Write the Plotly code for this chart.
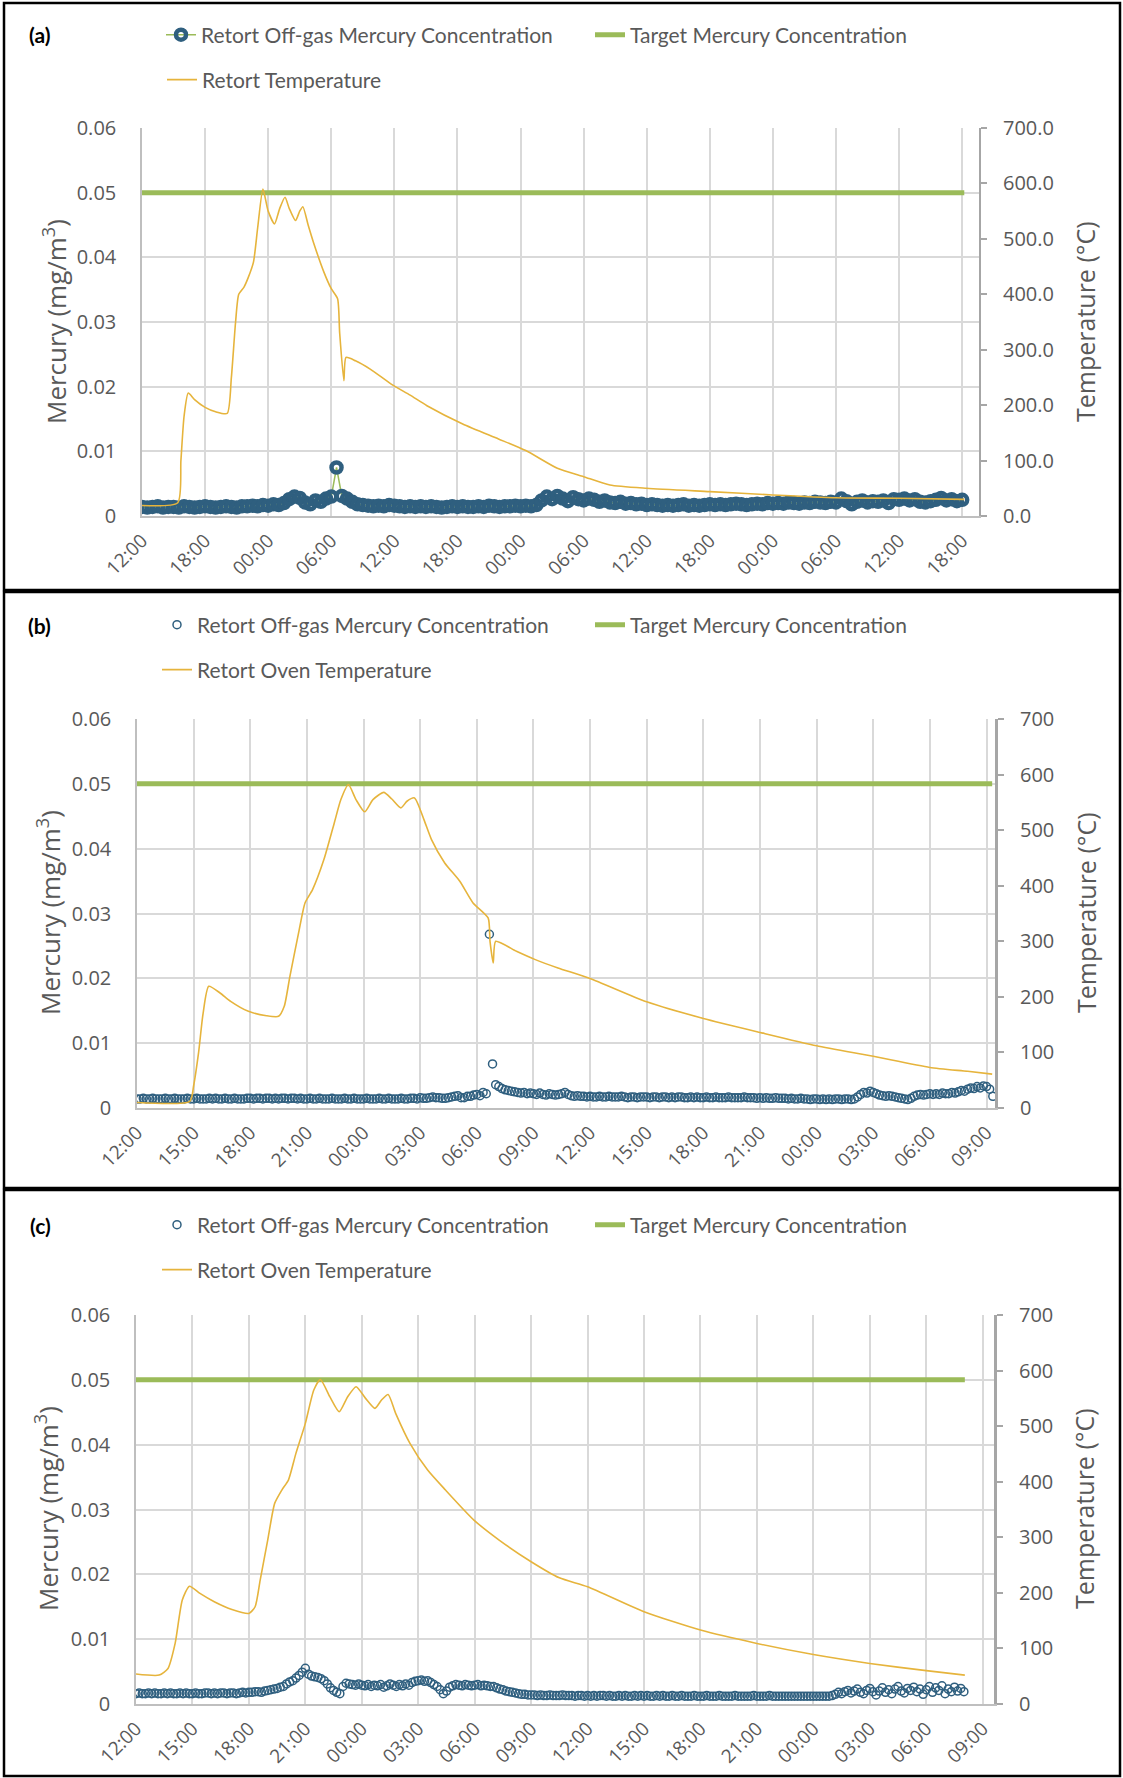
import pandas as pd
import plotly.graph_objects as go

START = pd.Timestamp("2021-03-01 12:00")

# ---------------- Panel (a) ----------------
a_hg_step_min = 30
a_hg = [0.0014,0.0013,0.0014,0.0015,0.0013,0.0014,0.0014,0.0013,0.0015,0.0014,
        0.0013,0.0014,0.0015,0.0014,0.0013,0.0014,0.0015,0.0014,0.0013,0.0015,
        0.0015,0.0016,0.0015,0.0017,0.0016,0.0018,0.0017,0.0020,0.0026,0.0030,
        0.0028,0.0021,0.0018,0.0024,0.0022,0.0027,0.0030,0.0075,0.0031,0.0027,
        0.0022,0.0018,0.0017,0.0016,0.0015,0.0016,0.0015,0.0017,0.0016,0.0015,
        0.0014,0.0015,0.0014,0.0015,0.0014,0.0015,0.0014,0.0013,0.0014,0.0015,
        0.0014,0.0015,0.0014,0.0014,0.0015,0.0014,0.0016,0.0015,0.0014,0.0015,
        0.0015,0.0016,0.0015,0.0016,0.0015,0.0017,0.0024,0.0030,0.0026,0.0031,
        0.0027,0.0023,0.0029,0.0026,0.0024,0.0027,0.0025,0.0022,0.0024,0.0021,
        0.0020,0.0022,0.0019,0.0020,0.0018,0.0019,0.0017,0.0018,0.0017,0.0016,
        0.0017,0.0016,0.0017,0.0018,0.0016,0.0017,0.0016,0.0017,0.0018,0.0017,
        0.0018,0.0017,0.0018,0.0019,0.0018,0.0017,0.0018,0.0019,0.0018,0.0020,
        0.0019,0.0020,0.0019,0.0021,0.0020,0.0019,0.0021,0.0020,0.0022,0.0021,
        0.0020,0.0022,0.0021,0.0027,0.0023,0.0018,0.0022,0.0024,0.0021,0.0023,
        0.0022,0.0024,0.0020,0.0026,0.0025,0.0027,0.0024,0.0026,0.0022,0.0021,
        0.0023,0.0025,0.0028,0.0024,0.0026,0.0023,0.0025]
a_temp_h = [0, 3.4, 3.7, 4.0, 4.4, 5.0, 6.0, 7.0, 8.1, 8.5, 8.9, 9.2, 9.7, 10.1, 10.6,
            11.0, 11.5, 12.0, 12.6, 13.1, 13.6, 14.0, 14.6, 15.0, 15.3, 15.8, 16.3, 17.3,
            18.0, 18.6, 18.8, 19.2, 19.4, 20.3, 21.7, 23.7, 25.5, 27.1, 30.5, 33.9, 36.5,
            39.5, 42.0, 44.5, 48.0, 54.0, 60.0, 66.0, 72.0, 78.2]
a_temp_c = [19, 24, 100, 180, 222, 210, 196, 188, 185, 250, 350, 400, 413, 430, 458,
            520, 590, 550, 527, 555, 575, 555, 533, 550, 558, 525, 494, 440,
            410, 392, 330, 244, 286, 280, 265, 238, 218, 199, 166, 139, 118,
            86, 71, 56, 50, 44, 38, 33, 32, 30]
a_target_h = [0, 78.2]
a_target = [0.05, 0.05]
a_range_h = 79.6

# ---------------- Panel (b) ----------------
b_hg_step_min = 10
b_hg = [0.0014,0.0014,0.0015,0.0014,0.0014,0.0015,0.0014,0.0014,0.0014,0.0015,0.0014,0.0014,0.0015,0.0014,0.0014,0.0014,0.0015,0.0014,
        0.0014,0.0015,0.0014,0.0014,0.0014,0.0015,0.0014,0.0015,0.0014,0.0014,0.0015,0.0014,0.0014,0.0015,0.0014,0.0014,0.0014,0.0015,
        0.0015,0.0014,0.0015,0.0015,0.0014,0.0015,0.0015,0.0014,0.0015,0.0014,0.0015,0.0015,0.0014,0.0015,0.0015,0.0014,0.0015,0.0014,
        0.0014,0.0015,0.0014,0.0014,0.0015,0.0014,0.0014,0.0014,0.0015,0.0014,0.0014,0.0014,0.0015,0.0014,0.0014,0.0015,0.0014,0.0014,
        0.0014,0.0015,0.0014,0.0014,0.0014,0.0015,0.0014,0.0014,0.0015,0.0014,0.0014,0.0014,0.0015,0.0014,0.0014,0.0015,0.0015,0.0014,
        0.0016,0.0015,0.0015,0.0016,0.0017,0.0016,0.0016,0.0015,0.0015,0.0016,0.0017,0.0018,0.0019,0.0016,0.0016,0.0018,0.0018,0.0020,
        0.0021,0.0019,0.0024,0.0022,0.0268,0.0068,0.0036,0.0033,0.0030,0.0028,0.0027,0.0026,0.0025,0.0024,0.0023,0.0024,0.0022,0.0023,
        0.0022,0.0021,0.0023,0.0021,0.0020,0.0022,0.0021,0.0020,0.0021,0.0022,0.0024,0.0021,0.0019,0.0018,0.0019,0.0018,0.0018,0.0017,
        0.0018,0.0017,0.0017,0.0018,0.0017,0.0017,0.0018,0.0017,0.0017,0.0017,0.0018,0.0017,0.0016,0.0017,0.0017,0.0016,0.0017,0.0017,
        0.0017,0.0016,0.0017,0.0017,0.0016,0.0017,0.0017,0.0016,0.0017,0.0016,0.0017,0.0017,0.0016,0.0016,0.0017,0.0016,0.0017,0.0016,
        0.0016,0.0017,0.0016,0.0016,0.0017,0.0016,0.0016,0.0016,0.0017,0.0016,0.0016,0.0016,0.0016,0.0017,0.0016,0.0016,0.0016,0.0015,
        0.0016,0.0015,0.0016,0.0015,0.0015,0.0016,0.0015,0.0015,0.0015,0.0014,0.0015,0.0014,0.0014,0.0015,0.0014,0.0014,0.0013,0.0014,
        0.0014,0.0013,0.0014,0.0013,0.0014,0.0013,0.0014,0.0014,0.0013,0.0014,0.0014,0.0013,0.0014,0.0017,0.0021,0.0024,0.0023,0.0026,
        0.0024,0.0022,0.0020,0.0019,0.0018,0.0019,0.0018,0.0017,0.0016,0.0015,0.0014,0.0013,0.0015,0.0018,0.0020,0.0021,0.0020,0.0021,
        0.0022,0.0021,0.0022,0.0021,0.0023,0.0022,0.0022,0.0024,0.0023,0.0025,0.0027,0.0026,0.0029,0.0031,0.0030,0.0033,0.0031,0.0034,
        0.0033,0.0029,0.0018]
b_temp_h = [0, 2.8, 3.0, 3.26, 3.5, 3.8, 4.4, 4.96, 5.9, 6.86, 7.5, 7.8, 8.1, 8.56, 8.9,
            9.3, 9.9, 10.45, 10.8, 11.2, 11.6, 12.06, 12.5, 13.07, 13.5, 13.98, 14.3, 14.7,
            15.2, 15.6, 16.3, 17.1, 17.8, 18.6, 18.7, 18.87, 19.0, 20.1, 21.1, 22.3,
            24, 27, 30, 33, 36, 39, 42, 44, 45.3]
b_temp_c = [10, 12, 40, 99, 170, 219, 207, 192, 174, 166, 165, 183, 237, 315, 369,
            393, 447, 513, 555, 582, 555, 533, 555, 568, 556, 540, 552, 558,
            519, 483, 441, 408, 369, 342, 300, 261, 300, 282, 267, 252,
            233, 191, 161, 136, 112, 93, 73, 66, 61]
b_target_h = [0, 45.3]
b_target = [0.05, 0.05]
b_range_h = 45.45

# ---------------- Panel (c) ----------------
c_hg_step_min = 10
c_hg = [0.0016,0.0017,0.0016,0.0016,0.0017,0.0016,0.0017,0.0016,0.0016,0.0017,0.0016,0.0017,0.0016,0.0016,0.0017,0.0016,0.0017,0.0016,
        0.0016,0.0017,0.0016,0.0016,0.0017,0.0017,0.0016,0.0017,0.0016,0.0017,0.0017,0.0016,0.0017,0.0017,0.0016,0.0017,0.0018,0.0017,
        0.0018,0.0018,0.0019,0.0019,0.0018,0.0020,0.0021,0.0022,0.0023,0.0024,0.0026,0.0027,0.0031,0.0034,0.0036,0.0040,0.0044,0.0049,
        0.0055,0.0046,0.0043,0.0042,0.0041,0.0039,0.0036,0.0031,0.0025,0.0021,0.0018,0.0016,0.0027,0.0032,0.0031,0.0030,0.0029,0.0031,
        0.0029,0.0028,0.0030,0.0027,0.0029,0.0028,0.0030,0.0026,0.0028,0.0031,0.0029,0.0027,0.0030,0.0028,0.0031,0.0029,0.0033,0.0035,
        0.0036,0.0037,0.0035,0.0036,0.0033,0.0030,0.0027,0.0022,0.0016,0.0020,0.0026,0.0028,0.0030,0.0029,0.0028,0.0030,0.0029,0.0028,
        0.0029,0.0030,0.0028,0.0029,0.0028,0.0027,0.0027,0.0025,0.0023,0.0022,0.0020,0.0019,0.0018,0.0017,0.0016,0.0015,0.0015,0.0014,
        0.0014,0.0014,0.0013,0.0014,0.0013,0.0013,0.0014,0.0013,0.0013,0.0013,0.0014,0.0013,0.0013,0.0013,0.0012,0.0013,0.0013,0.0012,
        0.0013,0.0012,0.0013,0.0012,0.0013,0.0013,0.0012,0.0013,0.0012,0.0012,0.0013,0.0012,0.0013,0.0012,0.0012,0.0013,0.0012,0.0013,
        0.0012,0.0013,0.0012,0.0012,0.0013,0.0012,0.0013,0.0012,0.0012,0.0013,0.0012,0.0012,0.0013,0.0012,0.0012,0.0012,0.0013,0.0012,
        0.0012,0.0012,0.0013,0.0012,0.0012,0.0012,0.0013,0.0012,0.0012,0.0012,0.0012,0.0013,0.0012,0.0012,0.0012,0.0012,0.0012,0.0013,
        0.0012,0.0012,0.0012,0.0012,0.0013,0.0012,0.0012,0.0012,0.0012,0.0012,0.0012,0.0012,0.0012,0.0012,0.0012,0.0012,0.0012,0.0012,
        0.0012,0.0012,0.0012,0.0012,0.0012,0.0012,0.0013,0.0015,0.0018,0.0016,0.0019,0.0021,0.0017,0.0020,0.0023,0.0018,0.0016,0.0021,
        0.0024,0.0019,0.0014,0.0020,0.0025,0.0018,0.0022,0.0016,0.0023,0.0027,0.0020,0.0017,0.0024,0.0021,0.0026,0.0019,0.0023,0.0015,
        0.0022,0.0027,0.0018,0.0025,0.0021,0.0028,0.0016,0.0023,0.0019,0.0026,0.0020,0.0024,0.0019]
c_temp_h = [0, 1.23, 1.7, 2.08, 2.46, 2.84, 3.4, 4.16, 5.1, 6.0, 6.33, 6.6, 7.0, 7.37, 7.75,
            8.1, 8.5, 9.0, 9.45, 9.8, 10.3, 10.8, 11.25, 11.7, 12.2, 12.7, 13.05, 13.4,
            13.8, 14.56, 15.5, 16.45, 17.96, 19.3, 21.0, 22.5, 24, 27, 30, 33, 36, 39, 42, 44.05]
c_temp_c = [54, 52, 64, 109, 187, 212, 199, 184, 170, 163, 175, 223, 295, 361, 385,
            403, 451, 505, 565, 584, 553, 526, 553, 571, 550, 532, 547, 557,
            523, 469, 421, 385, 331, 295, 256, 227, 211, 166, 133, 109, 89, 73, 60, 52]
c_target_h = [0, 44.05]
c_target = [0.05, 0.05]
c_range_h = 45.6

# ---------------- labels ----------------
panel_labels = ["(a)", "(b)", "(c)"]
hg_name = "Retort Off-gas Mercury Concentration"
target_name = "Target Mercury Concentration"
temp_names = ["Retort Temperature", "Retort Oven Temperature", "Retort Oven Temperature"]
y_left_title = "Mercury (mg/m<sup>3</sup>)"
y_right_title = "Temperature (°C)"

# ---------------- style ----------------
W, H = 1123, 1778
TXT = "#595959"
GRID = "#d9d9d9"
AXIS = "#bfbfbf"
RAXIS = "#a6a6a6"
GREEN = "#9BBB59"
GOLD = "#E6B43C"
BLUE = "#2F5F7F"
TICKFONT = dict(family="Open Sans", size=20, color=TXT)
XTICKFONT = dict(family="Open Sans", size=19, color=TXT)
LEGFONT = dict(family="Lato", size=21, color=TXT)


def px(x):
    return x / W


def py(y):
    return 1 - y / H


def times_h(hours):
    return [START + pd.Timedelta(hours=h) for h in hours]


def times_step(n, step_min):
    return [START + pd.Timedelta(minutes=step_min * k) for k in range(n)]


panels = [
    dict(hg=a_hg, step=a_hg_step_min, th=a_temp_h, tc=a_temp_c, gh=a_target_h, gv=a_target,
         rng=a_range_h, dtick=6, x=(142, 979), y=(128, 516), rfmt=".1f", a_style=True,
         leg_y=(35, 80), leg_x=(161, 590, 162), lbl=(27, 35),
         ttl=((55, 322), (1085, 322)), rwidth=2),
    dict(hg=b_hg, step=b_hg_step_min, th=b_temp_h, tc=b_temp_c, gh=b_target_h, gv=b_target,
         rng=b_range_h, dtick=3, x=(137, 995), y=(719, 1108), rfmt="", a_style=False,
         leg_y=(625, 670), leg_x=(157, 590, 157), lbl=(26, 625),
         ttl=((49, 913), (1086, 913)), rwidth=3),
    dict(hg=c_hg, step=c_hg_step_min, th=c_temp_h, tc=c_temp_c, gh=c_target_h, gv=c_target,
         rng=c_range_h, dtick=3, x=(136, 994), y=(1315, 1704), rfmt="", a_style=False,
         leg_y=(1225, 1270), leg_x=(157, 590, 157), lbl=(28, 1225),
         ttl=((47, 1509), (1084, 1509)), rwidth=3),
]

fig = go.Figure()
layout = dict(width=W, height=H, margin=dict(l=0, r=0, t=0, b=0, autoexpand=False),
              paper_bgcolor="white", plot_bgcolor="white", hovermode=False, showlegend=True,
              annotations=[], shapes=[])

for i, p in enumerate(panels):
    n = i + 1
    xa = "x" if n == 1 else f"x{n}"
    yl = "y" if n == 1 else f"y{2 * n - 1}"
    yr = f"y{2 * n}"
    lg = [("legend" if 3 * i == 0 else f"legend{3 * i + 1}"), f"legend{3 * i + 2}", f"legend{3 * i + 3}"]

    hg_t = times_step(len(p["hg"]), p["step"])
    if p["a_style"]:
        fig.add_trace(go.Scatter(x=hg_t, y=p["hg"], xaxis=xa, yaxis=yl, name=hg_name,
                                 mode="lines+markers", line=dict(color=GREEN, width=1.5),
                                 marker=dict(symbol="circle-open", size=10, color=BLUE, line=dict(width=4.5)),
                                 legend=lg[0]))
    else:
        fig.add_trace(go.Scatter(x=hg_t, y=p["hg"], xaxis=xa, yaxis=yl, name=hg_name,
                                 mode="markers",
                                 marker=dict(symbol="circle-open", size=8, color=BLUE, line=dict(width=1.5)),
                                 legend=lg[0]))
    fig.add_trace(go.Scatter(x=times_h(p["gh"]), y=p["gv"], xaxis=xa, yaxis=yl, name=target_name,
                             mode="lines", line=dict(color=GREEN, width=5), legend=lg[1]))
    fig.add_trace(go.Scatter(x=times_h(p["th"]), y=p["tc"], xaxis=xa, yaxis=yr, name=temp_names[i],
                             mode="lines", line=dict(color=GOLD, width=1.6, shape="spline", smoothing=0.6),
                             legend=lg[2]))

    xdom = [px(p["x"][0]), px(p["x"][1])]
    ydom = [py(p["y"][1]), py(p["y"][0])]
    layout["xaxis" if n == 1 else f"xaxis{n}"] = dict(
        domain=xdom, anchor=yl, type="date", automargin=False,
        range=[str(START), str(START + pd.Timedelta(hours=p["rng"]))],
        tick0=str(START), dtick=p["dtick"] * 3600000, tickformat="%H:%M", tickangle=-45,
        showgrid=True, gridcolor=GRID, gridwidth=1.5, showline=True, linecolor=AXIS, linewidth=2,
        ticks="", tickfont=XTICKFONT, ticklabelstandoff=4, zeroline=False, fixedrange=True)
    layout["yaxis" if n == 1 else f"yaxis{2 * n - 1}"] = dict(
        domain=ydom, anchor=xa, range=[0, 0.06], dtick=0.01, tick0=0, automargin=False,
        showgrid=True, gridcolor=GRID, gridwidth=1.5, showline=True, linecolor=AXIS, linewidth=1.5,
        ticks="", tickfont=TICKFONT, ticklabelstandoff=20, zeroline=False, fixedrange=True)
    layout[f"yaxis{2 * n}"] = dict(
        domain=ydom, anchor=xa, overlaying=yl, side="right", range=[0, 700], dtick=100, tick0=0,
        automargin=False,
        tickformat=p["rfmt"], showgrid=False, showline=True, linecolor=RAXIS, linewidth=p["rwidth"],
        ticks="outside", ticklen=6, tickcolor=RAXIS, tickwidth=1.5,
        tickfont=TICKFONT, ticklabelstandoff=12, zeroline=False, fixedrange=True)

    # legends (one per entry, placed as in the reference)
    lx = p["leg_x"]
    ly = p["leg_y"]
    for j, (xx, yy) in enumerate([(lx[0], ly[0]), (lx[1], ly[0]), (lx[2], ly[1])]):
        layout[lg[j]] = dict(x=px(xx), y=py(yy), xanchor="left", yanchor="middle",
                             orientation="h", font=LEGFONT, bgcolor="rgba(0,0,0,0)",
                             borderwidth=0, visible=True)

    # panel label
    layout["annotations"].append(dict(text=f"<b>{panel_labels[i]}</b>", x=px(p["lbl"][0]), y=py(p["lbl"][1]),
                                      xref="paper", yref="paper", xanchor="left", yanchor="middle",
                                      showarrow=False, font=dict(family="Lato", size=21, color="black")))
    # axis titles
    (lx0, ly0), (rx0, ry0) = p["ttl"]
    layout["annotations"].append(dict(text=y_left_title, x=px(lx0), y=py(ly0), xref="paper", yref="paper",
                                      xanchor="center", yanchor="middle", textangle=-90, showarrow=False,
                                      font=dict(family="Open Sans", size=26, color=TXT)))
    layout["annotations"].append(dict(text=y_right_title, x=px(rx0), y=py(ry0), xref="paper", yref="paper",
                                      xanchor="center", yanchor="middle", textangle=-90, showarrow=False,
                                      font=dict(family="Open Sans", size=25, color=TXT)))

# panel borders
for (y0, y1) in [(3, 590), (592, 1188), (1190, 1776)]:
    layout["shapes"].append(dict(type="rect", xref="paper", yref="paper",
                                 x0=px(4), x1=px(1120), y0=py(y1), y1=py(y0),
                                 line=dict(color="black", width=2.5), fillcolor="rgba(0,0,0,0)"))

fig.update_layout(**layout)
fig.write_html("out.html", config={"displayModeBar": False},
               post_script="document.body.style.margin='0px';document.body.style.overflow='hidden';")
